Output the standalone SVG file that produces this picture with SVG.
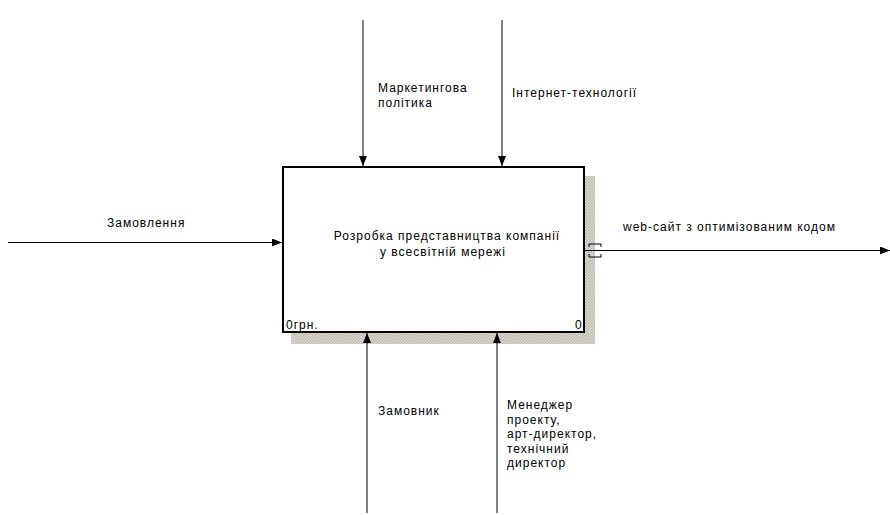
<svg xmlns="http://www.w3.org/2000/svg" width="890" height="515" viewBox="0 0 890 515">
<defs>
<marker id="ah" viewBox="0 0 10 8" refX="10" refY="4" markerWidth="10" markerHeight="8" markerUnits="userSpaceOnUse" orient="auto">
<path d="M0,0 L10,4 L0,8 Z" fill="#000"/>
</marker>
<pattern id="hatch" width="3" height="3" patternUnits="userSpaceOnUse">
<rect width="3" height="3" fill="#d8d4cc"/>
<path d="M0,3 L3,0" stroke="#b4b0a8" stroke-width="0.8"/>
</pattern>
</defs>
<style>
text{font-family:"Liberation Sans",Arial,sans-serif;font-size:12px;fill:#000;letter-spacing:1px}
.ln{stroke:#000;stroke-width:1;fill:none}
</style>
<rect width="890" height="515" fill="#fff"/>
<g id="node-A0">
<rect x="291" y="176" width="304" height="168" fill="url(#hatch)"/>
<rect x="283" y="167" width="301" height="165" fill="#fff" stroke="#000" stroke-width="2"/>
<text x="447" y="240" text-anchor="middle">Розробка представництва компанії</text>
<text x="443" y="256" text-anchor="middle">у всесвітній мережі</text>
<text x="286" y="329">0грн.</text>
<text x="575" y="329">0</text>
</g>
<g id="connectors">
<path class="ln" d="M8,242.5 H282" marker-end="url(#ah)"/>
<path class="ln" d="M363,20 V166" marker-end="url(#ah)"/>
<path class="ln" d="M502,20 V166" marker-end="url(#ah)"/>
<path class="ln" d="M367,513 V333" marker-end="url(#ah)"/>
<path class="ln" d="M497,513 V333" marker-end="url(#ah)"/>
<path class="ln" d="M585,250.5 H890" marker-end="url(#ah)"/>
<path class="ln" d="M589,247 V244 H601 V247 M589,254 V257 H601 V254"/>
<text x="107" y="227">Замовлення</text>
<text x="378" y="92">Маркетингова</text>
<text x="378" y="107">політика</text>
<text x="512" y="97">Інтернет-технології</text>
<text x="623" y="231">web-сайт з оптимізованим кодом</text>
<text x="378" y="415">Замовник</text>
<text x="507" y="409">Менеджер</text>
<text x="507" y="424">проекту,</text>
<text x="507" y="438">арт-директор,</text>
<text x="507" y="453">технічний</text>
<text x="507" y="467">директор</text>
</g>
</svg>
